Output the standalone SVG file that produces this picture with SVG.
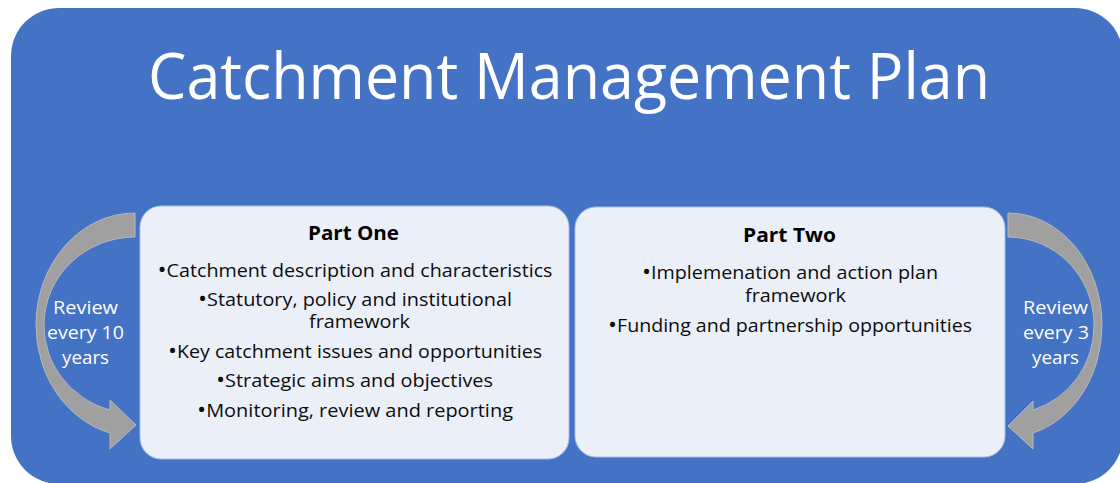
<svg xmlns="http://www.w3.org/2000/svg" width="1120" height="483" viewBox="0 0 1120 483">
  <style>
    .bg { fill: #4472C4; }
    .panel { fill: #EBF0F8; stroke: #A9BDE3; stroke-width: 1; }
    .arrow { fill: #A0A0A0; stroke: #B8B8B8; stroke-width: 1; }
    .title { font-family: "Open Sans", "Noto Sans", sans-serif; font-size: 64px; fill: #FFFFFF; text-anchor: middle; }
    .head { font-family: "Open Sans", "Noto Sans", sans-serif; font-size: 19px; font-weight: bold; fill: #000000; text-anchor: middle; }
    .item { font-family: "Open Sans", "Noto Sans", sans-serif; font-size: 18px; fill: #0D0D0D; text-anchor: middle; }
    .b { font-size: 22px; }
    .rev { font-family: "Open Sans", "Noto Sans", sans-serif; font-size: 18px; fill: #FFFFFF; text-anchor: middle; }
  </style>

  <g id="background">
    <rect class="bg" x="11" y="8" width="1112" height="476" rx="48" ry="48"/>
    <text class="title" x="569" y="99" textLength="842" lengthAdjust="spacingAndGlyphs">Catchment Management Plan</text>
  </g>

  <g id="connectors">
    <path id="arrow-left" class="arrow" d="M135,213 A99,112 0 0 0 36,325 A99,112 0 0 0 110,433 L110,449 L136,425 L110,400 L110,410 A91,88 0 0 1 44,325 A91,88 0 0 1 135,237 Z"/>
    <path id="arrow-right" class="arrow" d="M1008,213 A94,112 0 0 1 1102,325 A94,112 0 0 1 1033,433 L1033,449 L1008,426 L1033,401 L1033,410 A86,88 0 0 0 1094,325 A86,88 0 0 0 1008,237 Z"/>
  </g>

  <g id="review-left">
    <text class="rev" x="85.5" y="314" textLength="65" lengthAdjust="spacingAndGlyphs">Review</text>
    <text class="rev" x="85.5" y="339" textLength="77" lengthAdjust="spacingAndGlyphs">every 10</text>
    <text class="rev" x="85.5" y="364" textLength="47" lengthAdjust="spacingAndGlyphs">years</text>
  </g>

  <g id="review-right">
    <text class="rev" x="1055.5" y="314" textLength="65" lengthAdjust="spacingAndGlyphs">Review</text>
    <text class="rev" x="1056" y="339" textLength="66" lengthAdjust="spacingAndGlyphs">every 3</text>
    <text class="rev" x="1055.5" y="364" textLength="47" lengthAdjust="spacingAndGlyphs">years</text>
  </g>

  <g id="part-one">
    <rect class="panel" x="140" y="206" width="429" height="253" rx="21" ry="21"/>
    <text class="head" x="353.5" y="240" textLength="91" lengthAdjust="spacingAndGlyphs">Part One</text>
    <text class="item" x="355" y="277" textLength="395" lengthAdjust="spacingAndGlyphs"><tspan class="b">•</tspan>Catchment description and characteristics</text>
    <text class="item" x="355" y="306" textLength="314" lengthAdjust="spacingAndGlyphs"><tspan class="b">•</tspan>Statutory, policy and institutional</text>
    <text class="item" x="359.5" y="328" textLength="101" lengthAdjust="spacingAndGlyphs">framework</text>
    <text class="item" x="355" y="358" textLength="374" lengthAdjust="spacingAndGlyphs"><tspan class="b">•</tspan>Key catchment issues and opportunities</text>
    <text class="item" x="354.5" y="387" textLength="277" lengthAdjust="spacingAndGlyphs"><tspan class="b">•</tspan>Strategic aims and objectives</text>
    <text class="item" x="355" y="416.5" textLength="316" lengthAdjust="spacingAndGlyphs"><tspan class="b">•</tspan>Monitoring, review and reporting</text>
  </g>

  <g id="part-two">
    <rect class="panel" x="575" y="207" width="430" height="250" rx="21" ry="21"/>
    <text class="head" x="789.5" y="241.5" textLength="93" lengthAdjust="spacingAndGlyphs">Part Two</text>
    <text class="item" x="790" y="279" textLength="296" lengthAdjust="spacingAndGlyphs"><tspan class="b">•</tspan>Implemenation and action plan</text>
    <text class="item" x="795.5" y="301.5" textLength="101" lengthAdjust="spacingAndGlyphs">framework</text>
    <text class="item" x="790" y="331.5" textLength="364" lengthAdjust="spacingAndGlyphs"><tspan class="b">•</tspan>Funding and partnership opportunities</text>
  </g>
</svg>
